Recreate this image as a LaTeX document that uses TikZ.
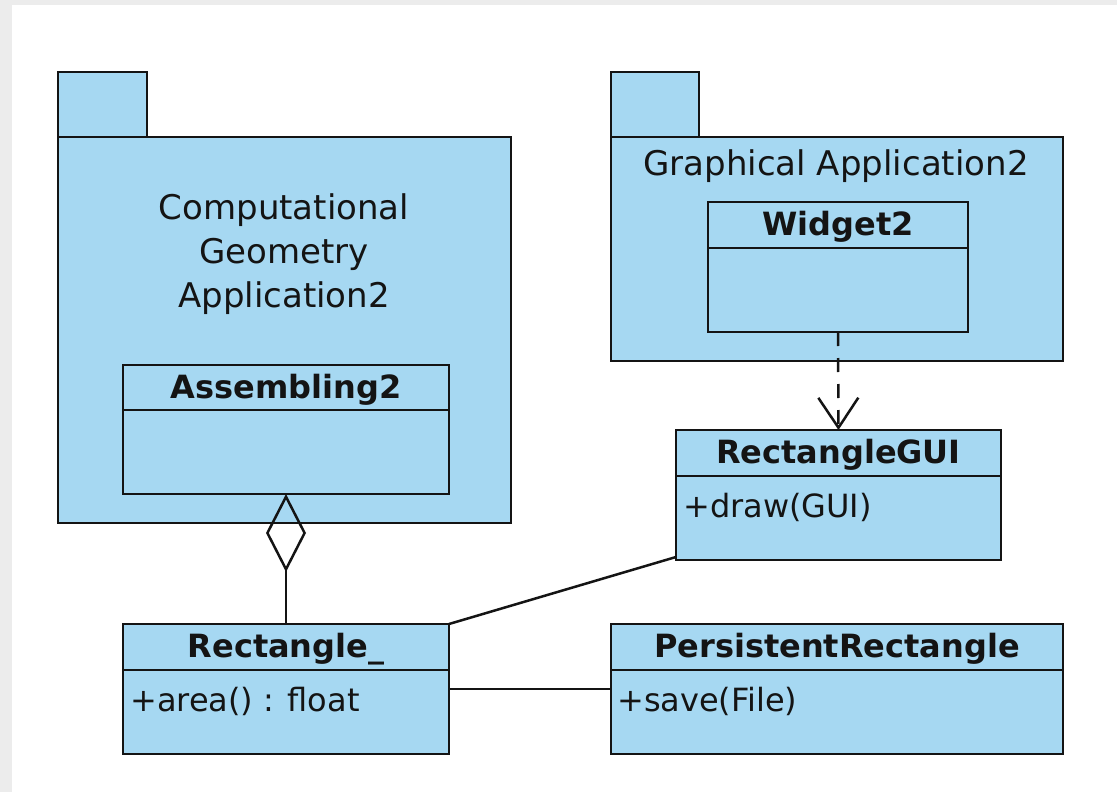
\documentclass[tikz,border=0pt]{standalone}
\usepackage{fontspec}
\setmainfont{DejaVu Sans}
\usetikzlibrary{arrows.meta,calc}
\definecolor{umlblue}{RGB}{166,216,242}
\definecolor{bggray}{RGB}{236,236,236}
\definecolor{ink}{RGB}{20,20,20}
\begin{document}
\begin{tikzpicture}[x=1pt,y=-1pt,
  box/.style={draw=ink, fill=umlblue, line width=2.8pt, anchor=north west, inner sep=0pt, outer sep=0pt},
  pkgtxt/.style={font=\fontsize{34}{44}\selectfont, text=ink, align=center, inner sep=0pt},
  clstitle/.style={font=\fontsize{32}{38}\selectfont\bfseries, text=ink, inner sep=0pt},
  member/.style={font=\fontsize{32}{38}\selectfont, text=ink, anchor=west, inner sep=0pt},
  divider/.style={draw=ink, line width=2.8pt},
  conn/.style={draw=ink, line width=2.5pt}]
\fill[bggray] (0,0) rectangle (1117,792);
\fill[white] (12,5) rectangle (1117,792);
\useasboundingbox (0,0) rectangle (1117,792);

% left package
\node[box, minimum width=89pt, minimum height=65pt] (lptab) at (58,72) {};
\node[box, minimum width=453pt, minimum height=386pt] (lpkg) at (58,137) {};
\node[pkgtxt] (lpkgname) at (284,254) {Computational\\Geometry\\Application2};

% Assembling2
\node[box, minimum width=326pt, minimum height=129pt] (asm) at (123,365) {};
\draw[divider] ($(asm.north west)+(0,45)$) -- ($(asm.north east)+(0,45)$);
\node[clstitle] (asmname) at ($(asm.north)+(0,25)$) {Assembling2};

% right package
\node[box, minimum width=88pt, minimum height=65pt] (rptab) at (611,72) {};
\node[box, minimum width=452pt, minimum height=224pt] (rpkg) at (611,137) {};
\node[pkgtxt] (rpkgname) at (836,166) {Graphical Application2};

% Widget2
\node[box, minimum width=260pt, minimum height=130pt] (w2) at (708,202) {};
\draw[divider] ($(w2.north west)+(0,46)$) -- ($(w2.north east)+(0,46)$);
\node[clstitle] (w2name) at ($(w2.north)+(0,25)$) {Widget2};

% RectangleGUI
\node[box, minimum width=325pt, minimum height=130pt] (rgui) at (676,430) {};
\draw[divider] ($(rgui.north west)+(0,46)$) -- ($(rgui.north east)+(0,46)$);
\node[clstitle] (rguiname) at ($(rgui.north)+(0,25)$) {RectangleGUI};
\node[member] (rguim) at (683,507) {+draw(GUI)};

% Rectangle_
\node[box, minimum width=326pt, minimum height=130pt] (rect) at (123,624) {};
\draw[divider] ($(rect.north west)+(0,46)$) -- ($(rect.north east)+(0,46)$);
\node[clstitle] (rectname) at ($(rect.north)+(0,25)$) {Rectangle\_};
\node[member] (rectm) at (130,701) {+area() : float};

% PersistentRectangle
\node[box, minimum width=452pt, minimum height=130pt] (pr) at (611,624) {};
\draw[divider] ($(pr.north west)+(0,46)$) -- ($(pr.north east)+(0,46)$);
\node[clstitle] (prname) at ($(pr.north)+(0,25)$) {PersistentRectangle};
\node[member] (prm) at (617,701) {+save(File)};

% connectors
\draw[conn, dash pattern=on 14pt off 12pt, -{Straight Barb[length=30pt,width=40pt]}] (w2.south) -- (rgui.north);
\draw[conn, {Diamond[open,length=78pt,width=40pt]}-] (asm.south) -- (rect.north);
\draw[conn] ($(rgui.south west)+(0,-3)$) -- (rect.north east);
\draw[conn] (rect.east) -- (pr.west);
\end{tikzpicture}
\end{document}
